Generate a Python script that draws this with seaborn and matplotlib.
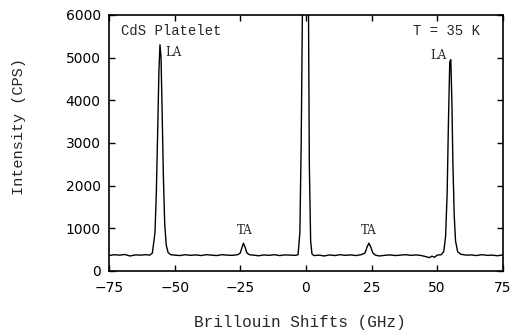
import pandas as pd
import matplotlib
matplotlib.use('Agg')
import matplotlib.pyplot as plt
import seaborn as sns

# Brillouin spectrum, values
shift_ghz = [-75, -73, -71, -69, -67, -65, -63, -61, -59.5, -58.5, -57.5, -57, -56.5, -56,
             -55.6, -55.2, -54.8, -54.3, -53.8, -53.2, -52.5, -51.5, -50, -48, -46, -44,
             -42, -40, -38, -36, -34, -32, -30, -28, -26, -25, -24.3, -23.8, -23.2, -22.5,
             -21.5, -20, -18, -16, -14, -12, -10, -8, -6, -4, -3, -2.3, -1.8, -1.2, 0,
             0.9, 1.3, 1.8, 2.3, 3, 5, 7, 9, 11, 13, 15, 17, 19, 21, 22.5, 23.3, 24, 24.7,
             25.5, 26.5, 28, 30, 32, 34, 36, 38, 40, 42, 44, 46, 47, 48, 49, 50, 51.5,
             52.5, 53.2, 53.8, 54.3, 54.8, 55.2, 55.6, 56, 56.5, 57, 57.8, 59, 61, 63,
             65, 67, 69, 71, 73, 75]
intensity = [360, 380, 370, 385, 350, 375, 370, 380, 370, 420, 900, 1800, 3200, 4700,
             5300, 5000, 3800, 2200, 1100, 600, 430, 380, 370, 360, 380, 365,
             375, 360, 380, 370, 360, 380, 370, 365, 380, 420, 560, 650, 560, 420,
             380, 370, 355, 375, 365, 380, 360, 375, 370, 365, 380, 900, 3000, 7000, 15000,
             7000, 2500, 700, 400, 360, 370, 350, 375, 360, 380, 365, 375, 360, 380, 420, 560, 650, 560,
             420, 370, 350, 365, 375, 360, 370, 380, 365, 375, 360, 330, 310, 345, 320, 370, 380,
             450, 800, 1800, 3500, 4900, 4950, 4000, 2500, 1300, 700, 450, 390, 370, 375,
             360, 380, 365, 370, 355, 375]

df = pd.DataFrame({'shift': shift_ghz, 'intensity': intensity})

sns.set_style('ticks')
plt.rcParams['font.family'] = ['DejaVu Sans']

fig = plt.figure(figsize=(5.12, 3.32), dpi=100)
ax = fig.add_axes([0.213, 0.184, 0.769, 0.771])
sns.lineplot(data=df, x='shift', y='intensity', ax=ax, color='black', linewidth=1.0)

ax.set_xlim(-75, 75)
ax.set_ylim(0, 6000)
ax.set_xticks([-75, -50, -25, 0, 25, 50, 75])
ax.set_yticks([0, 1000, 2000, 3000, 4000, 5000, 6000])
ax.set_xticklabels(['\u221275', '\u221250', '\u221225', '0', '25', '50', '75'])
ax.tick_params(direction='in', top=True, right=True, length=4, width=1,
               labelsize=10, colors='black')
ax.tick_params(axis='x', pad=7)
ax.tick_params(axis='y', pad=6)
for s in ax.spines.values():
    s.set_linewidth(1.2)
    s.set_color('black')

# typewriter-style lettering like the original
mono = 'Liberation Mono'
serif = 'DejaVu Serif'
ax.set_xlabel('Brillouin Shifts (GHz)', family=mono, fontsize=11.5, va='center')
ax.set_ylabel('Intensity (CPS)', family=mono, fontsize=11, va='center')
ax.xaxis.set_label_coords(0.485, -0.203)
ax.yaxis.set_label_coords(-0.228, 0.5625)

ax.text(-70.6, 5620, 'CdS Platelet', family=mono, fontsize=10, va='center', ha='left')
ax.text(66.2, 5620, 'T = 35 K', family=mono, fontsize=10, va='center', ha='right')
ax.text(-53.5, 5130, 'LA', family=serif, fontsize=8.5, va='center', ha='left')
ax.text(50.6, 5060, 'LA', family=serif, fontsize=8.5, va='center', ha='center')
ax.text(-23.2, 940, 'TA', family=serif, fontsize=8.5, va='center', ha='center')
ax.text(24, 940, 'TA', family=serif, fontsize=8.5, va='center', ha='center')

fig.savefig('out.png', dpi=100)
